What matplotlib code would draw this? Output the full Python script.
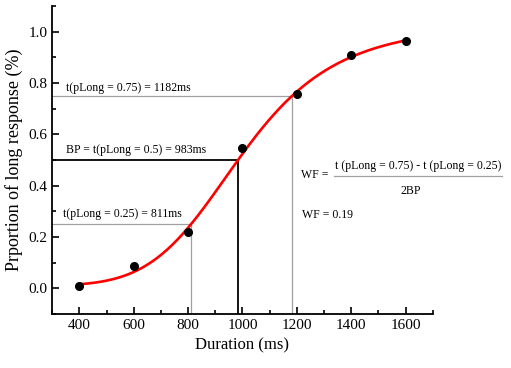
import matplotlib
matplotlib.use("Agg")
import matplotlib.pyplot as plt
import numpy as np
from matplotlib.ticker import MultipleLocator

# observed proportions of "long" responses
durations = [400, 600, 800, 1000, 1200, 1400, 1600]
p_long = [0.01, 0.085, 0.22, 0.545, 0.755, 0.91, 0.962]

# logistic fit (Origin form: y = A2 + (A1 - A2) / (1 + (x/x0)^p))
fit_A1 = 0.01
fit_A2 = 1.03
fit_x0 = 997.6
fit_p = 5.7
fit_range = (400, 1600)

# thresholds read from the fit
t25, t50, t75 = 811, 983, 1182
lvl25, lvl50, lvl75 = 0.25, 0.5, 0.75

plt.rcParams["font.family"] = ["Liberation Serif", "DejaVu Serif"]

fig = plt.figure(figsize=(5.11, 3.68), dpi=100)
ax = fig.add_axes([0.102, 0.147, 0.745, 0.837])

xs = np.linspace(*fit_range, 400)
ys = fit_A2 + (fit_A1 - fit_A2) / (1 + (xs / fit_x0) ** fit_p)

xmin, xmax = 300, 1700
ymin, ymax = -0.1, 1.1

# guide lines
ax.plot([xmin, t75, t75], [lvl75, lvl75, ymin], color="#a0a0a0", lw=0.9, zorder=1)
ax.plot([xmin, t25, t25], [lvl25, lvl25, ymin], color="#a0a0a0", lw=0.9, zorder=1)
ax.plot([xmin, t50, t50], [lvl50, lvl50, ymin], color="black", lw=1.3, zorder=1)

ax.plot(xs, ys, color="red", lw=1.9, zorder=2)
ax.plot(durations, p_long, "o", color="black", ms=5.5, zorder=3)

fs = 8.5
ax.text(350, 0.758, "t(pLong = 0.75) = 1182ms", fontsize=fs, va="bottom")
ax.text(350, 0.515, "BP = t(pLong = 0.5) = 983ms", fontsize=fs, va="bottom")
ax.text(340, 0.265, "t(pLong = 0.25) = 811ms", fontsize=fs, va="bottom")
ax.text(1215, 0.44, "WF =", fontsize=fs, va="center")
ax.text(1645, 0.475, "t (pLong = 0.75) - t (pLong = 0.25)", fontsize=fs,
        ha="center", va="center", clip_on=False)
ax.plot([1337, 1953], [0.436, 0.436], color="#a0a0a0", lw=0.9, clip_on=False)
ax.text(1619, 0.378, "2BP", fontsize=fs, ha="center", va="center", clip_on=False)
ax.text(1220, 0.285, "WF = 0.19", fontsize=fs, va="center")

ax.set_xlim(xmin, xmax)
ax.set_ylim(ymin, ymax)
ax.xaxis.set_minor_locator(MultipleLocator(100))
ax.yaxis.set_minor_locator(MultipleLocator(0.1))
ax.set_xticks(range(400, 1601, 200))
ax.set_yticks(np.arange(0, 1.01, 0.2))
ax.yaxis.set_major_formatter(plt.FuncFormatter(lambda v, _: f"{v:.1f}"))
ax.tick_params(which="both", direction="in", labelsize=11, width=1.2)
ax.tick_params(which="major", length=5)
ax.tick_params(which="minor", length=3)
for s in ("top", "right"):
    ax.spines[s].set_visible(False)
for s in ("left", "bottom"):
    ax.spines[s].set_linewidth(1.3)

ax.set_xlabel("Duration (ms)", fontsize=12)
ax.set_ylabel("Prportion of long response (%)", fontsize=13)

fig.savefig("out.png", dpi=100)
